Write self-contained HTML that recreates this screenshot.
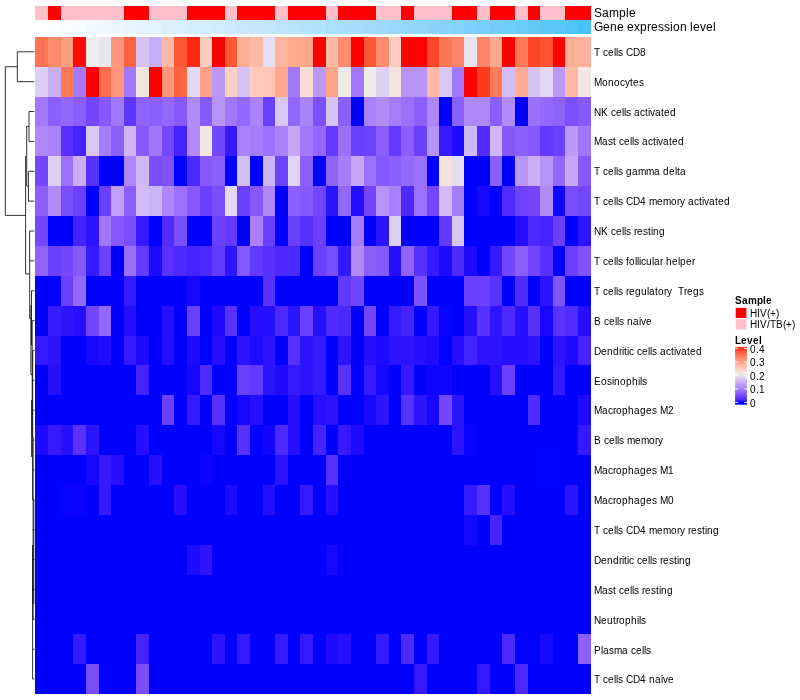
<!DOCTYPE html>
<html><head><meta charset="utf-8"><title>Heatmap</title>
<style>
html,body{margin:0;padding:0;background:#fff}
body{width:800px;height:700px;overflow:hidden}
svg{display:block}
text{font-family:"Liberation Sans",Arial,Helvetica,sans-serif;fill:#000}
.rl{font-size:10px}
.an{font-size:12px}
.lt{font-size:10px;font-weight:bold}
</style></head><body>
<svg width="800" height="700" viewBox="0 0 800 700">
<defs><linearGradient id="lg" gradientUnits="userSpaceOnUse" x1="0" y1="402.4" x2="0" y2="348.4"><stop offset="0%" stop-color="#0000FF"/><stop offset="5%" stop-color="#4B28FE"/><stop offset="10%" stop-color="#6A40FE"/><stop offset="15%" stop-color="#8256FD"/><stop offset="20%" stop-color="#956AFB"/><stop offset="25%" stop-color="#A67EFA"/><stop offset="30%" stop-color="#B693F8"/><stop offset="35%" stop-color="#C4A7F7"/><stop offset="40%" stop-color="#D1BBF5"/><stop offset="45%" stop-color="#DDCFF2"/><stop offset="50%" stop-color="#E9E4EF"/><stop offset="55%" stop-color="#F3E6E2"/><stop offset="60%" stop-color="#FBD5CC"/><stop offset="65%" stop-color="#FFC5B5"/><stop offset="70%" stop-color="#FFB49F"/><stop offset="75%" stop-color="#FFA38A"/><stop offset="80%" stop-color="#FF9174"/><stop offset="85%" stop-color="#FF7F5F"/><stop offset="90%" stop-color="#FF6B4A"/><stop offset="95%" stop-color="#FF5535"/><stop offset="100%" stop-color="#FF3A1F"/></linearGradient></defs>
<rect x="0" y="0" width="800" height="700" fill="#fff"/>
<g shape-rendering="crispEdges">
<rect x="35" y="6" width="13" height="14" fill="#FFC0CB"/><rect x="48" y="6" width="13" height="14" fill="#FF0000"/><rect x="61" y="6" width="12" height="14" fill="#FFC0CB"/><rect x="73" y="6" width="13" height="14" fill="#FFC0CB"/><rect x="86" y="6" width="13" height="14" fill="#FFC0CB"/><rect x="99" y="6" width="12" height="14" fill="#FFC0CB"/><rect x="111" y="6" width="13" height="14" fill="#FFC0CB"/><rect x="124" y="6" width="12" height="14" fill="#FF0000"/><rect x="136" y="6" width="13" height="14" fill="#FF0000"/><rect x="149" y="6" width="13" height="14" fill="#FFC0CB"/><rect x="162" y="6" width="12" height="14" fill="#FFC0CB"/><rect x="174" y="6" width="13" height="14" fill="#FFC0CB"/><rect x="187" y="6" width="13" height="14" fill="#FF0000"/><rect x="200" y="6" width="12" height="14" fill="#FF0000"/><rect x="212" y="6" width="13" height="14" fill="#FF0000"/><rect x="225" y="6" width="12" height="14" fill="#FFC0CB"/><rect x="237" y="6" width="13" height="14" fill="#FF0000"/><rect x="250" y="6" width="13" height="14" fill="#FF0000"/><rect x="263" y="6" width="12" height="14" fill="#FF0000"/><rect x="275" y="6" width="13" height="14" fill="#FFC0CB"/><rect x="288" y="6" width="12" height="14" fill="#FF0000"/><rect x="300" y="6" width="13" height="14" fill="#FF0000"/><rect x="313" y="6" width="13" height="14" fill="#FF0000"/><rect x="326" y="6" width="12" height="14" fill="#FFC0CB"/><rect x="338" y="6" width="13" height="14" fill="#FF0000"/><rect x="351" y="6" width="13" height="14" fill="#FF0000"/><rect x="364" y="6" width="12" height="14" fill="#FF0000"/><rect x="376" y="6" width="13" height="14" fill="#FFC0CB"/><rect x="389" y="6" width="12" height="14" fill="#FFC0CB"/><rect x="401" y="6" width="13" height="14" fill="#FF0000"/><rect x="414" y="6" width="13" height="14" fill="#FFC0CB"/><rect x="427" y="6" width="12" height="14" fill="#FFC0CB"/><rect x="439" y="6" width="13" height="14" fill="#FFC0CB"/><rect x="452" y="6" width="12" height="14" fill="#FF0000"/><rect x="464" y="6" width="13" height="14" fill="#FF0000"/><rect x="477" y="6" width="13" height="14" fill="#FFC0CB"/><rect x="490" y="6" width="12" height="14" fill="#FF0000"/><rect x="502" y="6" width="13" height="14" fill="#FF0000"/><rect x="515" y="6" width="13" height="14" fill="#FFC0CB"/><rect x="528" y="6" width="12" height="14" fill="#FF0000"/><rect x="540" y="6" width="13" height="14" fill="#FFC0CB"/><rect x="553" y="6" width="12" height="14" fill="#FFC0CB"/><rect x="565" y="6" width="13" height="14" fill="#FF0000"/><rect x="578" y="6" width="13" height="14" fill="#FF0000"/>
<rect x="35" y="20" width="13" height="14" fill="#FFFFFF"/><rect x="48" y="20" width="13" height="14" fill="#FCFEFF"/><rect x="61" y="20" width="12" height="14" fill="#F8FCFF"/><rect x="73" y="20" width="13" height="14" fill="#F5FBFF"/><rect x="86" y="20" width="13" height="14" fill="#F2F9FE"/><rect x="99" y="20" width="12" height="14" fill="#EEF8FE"/><rect x="111" y="20" width="13" height="14" fill="#EBF7FE"/><rect x="124" y="20" width="12" height="14" fill="#E7F5FE"/><rect x="136" y="20" width="13" height="14" fill="#E4F4FE"/><rect x="149" y="20" width="13" height="14" fill="#E0F3FE"/><rect x="162" y="20" width="12" height="14" fill="#DDF1FD"/><rect x="174" y="20" width="13" height="14" fill="#D9F0FD"/><rect x="187" y="20" width="13" height="14" fill="#D6EEFD"/><rect x="200" y="20" width="12" height="14" fill="#D2EDFD"/><rect x="212" y="20" width="13" height="14" fill="#CFECFD"/><rect x="225" y="20" width="12" height="14" fill="#CBEAFD"/><rect x="237" y="20" width="13" height="14" fill="#C7E9FC"/><rect x="250" y="20" width="13" height="14" fill="#C4E7FC"/><rect x="263" y="20" width="12" height="14" fill="#C0E6FC"/><rect x="275" y="20" width="13" height="14" fill="#BCE5FC"/><rect x="288" y="20" width="12" height="14" fill="#B9E3FC"/><rect x="300" y="20" width="13" height="14" fill="#B5E2FB"/><rect x="313" y="20" width="13" height="14" fill="#B1E1FB"/><rect x="326" y="20" width="12" height="14" fill="#ADDFFB"/><rect x="338" y="20" width="13" height="14" fill="#A9DEFB"/><rect x="351" y="20" width="13" height="14" fill="#A5DCFB"/><rect x="364" y="20" width="12" height="14" fill="#A1DBFA"/><rect x="376" y="20" width="13" height="14" fill="#9DDAFA"/><rect x="389" y="20" width="12" height="14" fill="#99D8FA"/><rect x="401" y="20" width="13" height="14" fill="#94D7FA"/><rect x="414" y="20" width="13" height="14" fill="#90D6FA"/><rect x="427" y="20" width="12" height="14" fill="#8BD4FA"/><rect x="439" y="20" width="13" height="14" fill="#87D3F9"/><rect x="452" y="20" width="12" height="14" fill="#82D2F9"/><rect x="464" y="20" width="13" height="14" fill="#7DD0F9"/><rect x="477" y="20" width="13" height="14" fill="#78CFF9"/><rect x="490" y="20" width="12" height="14" fill="#73CDF8"/><rect x="502" y="20" width="13" height="14" fill="#6ECCF8"/><rect x="515" y="20" width="13" height="14" fill="#68CBF8"/><rect x="528" y="20" width="12" height="14" fill="#63C9F8"/><rect x="540" y="20" width="13" height="14" fill="#5CC8F8"/><rect x="553" y="20" width="12" height="14" fill="#56C7F7"/><rect x="565" y="20" width="13" height="14" fill="#4FC5F7"/><rect x="578" y="20" width="13" height="14" fill="#47C4F7"/>
<rect x="35" y="37" width="556" height="657" fill="#0000FF"/>
<rect x="35" y="37" width="13" height="30" fill="#FF7352"/><rect x="48" y="37" width="13" height="30" fill="#FF8B6C"/><rect x="61" y="37" width="12" height="30" fill="#FF9D83"/><rect x="73" y="37" width="13" height="30" fill="#FF0D04"/><rect x="86" y="37" width="13" height="30" fill="#EEEEEE"/><rect x="99" y="37" width="12" height="30" fill="#EBE7EF"/><rect x="111" y="37" width="13" height="30" fill="#FF967A"/><rect x="124" y="37" width="12" height="30" fill="#FF6343"/><rect x="136" y="37" width="13" height="30" fill="#D6C3F4"/><rect x="149" y="37" width="13" height="30" fill="#C9AEF6"/><rect x="162" y="37" width="12" height="30" fill="#FFBAA7"/><rect x="174" y="37" width="13" height="30" fill="#FF5837"/><rect x="187" y="37" width="13" height="30" fill="#FF2812"/><rect x="200" y="37" width="12" height="30" fill="#FECCBE"/><rect x="212" y="37" width="13" height="30" fill="#FF0000"/><rect x="225" y="37" width="12" height="30" fill="#FF5837"/><rect x="237" y="37" width="13" height="30" fill="#FFAE97"/><rect x="250" y="37" width="13" height="30" fill="#FFBAA7"/><rect x="263" y="37" width="12" height="30" fill="#E6DFF0"/><rect x="275" y="37" width="13" height="30" fill="#FFB39E"/><rect x="288" y="37" width="12" height="30" fill="#FFA890"/><rect x="300" y="37" width="13" height="30" fill="#FFA68E"/><rect x="313" y="37" width="13" height="30" fill="#FF0000"/><rect x="326" y="37" width="12" height="30" fill="#FFBAA7"/><rect x="338" y="37" width="13" height="30" fill="#FF8C6F"/><rect x="351" y="37" width="13" height="30" fill="#FF0000"/><rect x="364" y="37" width="12" height="30" fill="#FF5837"/><rect x="376" y="37" width="13" height="30" fill="#FF8C6F"/><rect x="389" y="37" width="12" height="30" fill="#FECCBE"/><rect x="401" y="37" width="26" height="30" fill="#FF0000"/><rect x="427" y="37" width="12" height="30" fill="#FF4527"/><rect x="439" y="37" width="13" height="30" fill="#FF7554"/><rect x="452" y="37" width="12" height="30" fill="#FF8364"/><rect x="464" y="37" width="13" height="30" fill="#E8E3F0"/><rect x="477" y="37" width="13" height="30" fill="#FF8364"/><rect x="490" y="37" width="12" height="30" fill="#FFA890"/><rect x="502" y="37" width="13" height="30" fill="#FF0000"/><rect x="515" y="37" width="13" height="30" fill="#FF7959"/><rect x="528" y="37" width="12" height="30" fill="#FF4527"/><rect x="540" y="37" width="13" height="30" fill="#FF5031"/><rect x="553" y="37" width="12" height="30" fill="#FF0000"/><rect x="565" y="37" width="13" height="30" fill="#FFAE97"/><rect x="578" y="37" width="13" height="30" fill="#FFB19C"/>
<rect x="35" y="67" width="13" height="30" fill="#DCCEF2"/><rect x="48" y="67" width="13" height="30" fill="#C9AEF6"/><rect x="61" y="67" width="12" height="30" fill="#FF7959"/><rect x="73" y="67" width="13" height="30" fill="#A279FA"/><rect x="86" y="67" width="13" height="30" fill="#FF0000"/><rect x="99" y="67" width="12" height="30" fill="#FF6E4E"/><rect x="111" y="67" width="13" height="30" fill="#FF967A"/><rect x="124" y="67" width="12" height="30" fill="#A279FA"/><rect x="136" y="67" width="13" height="30" fill="#F3E5E2"/><rect x="149" y="67" width="13" height="30" fill="#FF0000"/><rect x="162" y="67" width="12" height="30" fill="#FF967A"/><rect x="174" y="67" width="13" height="30" fill="#FF6343"/><rect x="187" y="67" width="13" height="30" fill="#E2D8F1"/><rect x="200" y="67" width="12" height="30" fill="#FF9F85"/><rect x="212" y="67" width="13" height="30" fill="#BA99F8"/><rect x="225" y="67" width="12" height="30" fill="#FCD1C5"/><rect x="237" y="67" width="13" height="30" fill="#D6C3F4"/><rect x="250" y="67" width="13" height="30" fill="#FFCABC"/><rect x="263" y="67" width="12" height="30" fill="#FFC6B7"/><rect x="275" y="67" width="13" height="30" fill="#FFA68E"/><rect x="288" y="67" width="12" height="30" fill="#A279FA"/><rect x="300" y="67" width="13" height="30" fill="#F7DDD6"/><rect x="313" y="67" width="13" height="30" fill="#BA99F8"/><rect x="326" y="67" width="12" height="30" fill="#FFA389"/><rect x="338" y="67" width="13" height="30" fill="#F0EBE9"/><rect x="351" y="67" width="13" height="30" fill="#A279FA"/><rect x="364" y="67" width="12" height="30" fill="#F0EBE9"/><rect x="376" y="67" width="13" height="30" fill="#DED0F2"/><rect x="389" y="67" width="12" height="30" fill="#F4E4E0"/><rect x="401" y="67" width="26" height="30" fill="#B794F8"/><rect x="427" y="67" width="12" height="30" fill="#FFBAA7"/><rect x="439" y="67" width="13" height="30" fill="#D9C7F3"/><rect x="452" y="67" width="12" height="30" fill="#A279FA"/><rect x="464" y="67" width="13" height="30" fill="#FF0000"/><rect x="477" y="67" width="13" height="30" fill="#FF3C20"/><rect x="490" y="67" width="12" height="30" fill="#FF7D5D"/><rect x="502" y="67" width="13" height="30" fill="#D3BFF4"/><rect x="515" y="67" width="13" height="30" fill="#FFAC95"/><rect x="528" y="67" width="12" height="30" fill="#D6C3F4"/><rect x="540" y="67" width="13" height="30" fill="#E2D8F1"/><rect x="553" y="67" width="12" height="30" fill="#BA99F8"/><rect x="565" y="67" width="13" height="30" fill="#FFBAA7"/><rect x="578" y="67" width="13" height="30" fill="#F2E7E4"/>
<rect x="35" y="97" width="13" height="29" fill="#A279FA"/><rect x="48" y="97" width="13" height="29" fill="#8B5FFC"/><rect x="61" y="97" width="12" height="29" fill="#9368FC"/><rect x="73" y="97" width="13" height="29" fill="#8B5FFC"/><rect x="86" y="97" width="13" height="29" fill="#7247FD"/><rect x="99" y="97" width="12" height="29" fill="#8559FC"/><rect x="111" y="97" width="13" height="29" fill="#A279FA"/><rect x="124" y="97" width="12" height="29" fill="#5F36FE"/><rect x="136" y="97" width="13" height="29" fill="#8F64FC"/><rect x="149" y="97" width="13" height="29" fill="#8B5FFC"/><rect x="162" y="97" width="12" height="29" fill="#9368FC"/><rect x="174" y="97" width="13" height="29" fill="#8559FC"/><rect x="187" y="97" width="13" height="29" fill="#B18CF9"/><rect x="200" y="97" width="12" height="29" fill="#8559FC"/><rect x="212" y="97" width="13" height="29" fill="#B794F8"/><rect x="225" y="97" width="12" height="29" fill="#A279FA"/><rect x="237" y="97" width="13" height="29" fill="#9368FC"/><rect x="250" y="97" width="13" height="29" fill="#AA83FA"/><rect x="263" y="97" width="12" height="29" fill="#6A40FE"/><rect x="275" y="97" width="13" height="29" fill="#D9C7F3"/><rect x="288" y="97" width="12" height="29" fill="#9368FC"/><rect x="300" y="97" width="13" height="29" fill="#AA83FA"/><rect x="313" y="97" width="13" height="29" fill="#7C50FD"/><rect x="326" y="97" width="12" height="29" fill="#D6C3F4"/><rect x="338" y="97" width="13" height="29" fill="#8B5FFC"/><rect x="364" y="97" width="12" height="29" fill="#A981FA"/><rect x="376" y="97" width="13" height="29" fill="#B18CF9"/><rect x="389" y="97" width="12" height="29" fill="#A57DFA"/><rect x="401" y="97" width="13" height="29" fill="#9B70FB"/><rect x="414" y="97" width="13" height="29" fill="#8B5FFC"/><rect x="427" y="97" width="12" height="29" fill="#AE88F9"/><rect x="452" y="97" width="12" height="29" fill="#8B5FFC"/><rect x="464" y="97" width="26" height="29" fill="#AE88F9"/><rect x="490" y="97" width="12" height="29" fill="#8B5FFC"/><rect x="502" y="97" width="13" height="29" fill="#B18CF9"/><rect x="528" y="97" width="12" height="29" fill="#9B70FB"/><rect x="540" y="97" width="13" height="29" fill="#9368FC"/><rect x="553" y="97" width="12" height="29" fill="#8F64FC"/><rect x="565" y="97" width="13" height="29" fill="#7C50FD"/><rect x="578" y="97" width="13" height="29" fill="#8559FC"/>
<rect x="35" y="126" width="13" height="30" fill="#AE88F9"/><rect x="48" y="126" width="13" height="30" fill="#A981FA"/><rect x="61" y="126" width="12" height="30" fill="#5831FE"/><rect x="73" y="126" width="13" height="30" fill="#4423FE"/><rect x="86" y="126" width="13" height="30" fill="#D9C7F3"/><rect x="99" y="126" width="12" height="30" fill="#A57DFA"/><rect x="111" y="126" width="13" height="30" fill="#8B5FFC"/><rect x="124" y="126" width="12" height="30" fill="#CDB4F5"/><rect x="136" y="126" width="13" height="30" fill="#8559FC"/><rect x="149" y="126" width="13" height="30" fill="#A077FB"/><rect x="162" y="126" width="12" height="30" fill="#7247FD"/><rect x="174" y="126" width="13" height="30" fill="#4423FE"/><rect x="187" y="126" width="13" height="30" fill="#B18CF9"/><rect x="200" y="126" width="12" height="30" fill="#F2E7E4"/><rect x="212" y="126" width="13" height="30" fill="#7247FD"/><rect x="225" y="126" width="12" height="30" fill="#3519FF"/><rect x="237" y="126" width="13" height="30" fill="#A981FA"/><rect x="250" y="126" width="13" height="30" fill="#A57DFA"/><rect x="263" y="126" width="12" height="30" fill="#9B70FB"/><rect x="275" y="126" width="13" height="30" fill="#A981FA"/><rect x="288" y="126" width="12" height="30" fill="#C4A7F7"/><rect x="300" y="126" width="13" height="30" fill="#A279FA"/><rect x="313" y="126" width="13" height="30" fill="#9368FC"/><rect x="326" y="126" width="12" height="30" fill="#6239FE"/><rect x="338" y="126" width="13" height="30" fill="#9B70FB"/><rect x="351" y="126" width="13" height="30" fill="#6A40FE"/><rect x="364" y="126" width="12" height="30" fill="#6D42FD"/><rect x="376" y="126" width="13" height="30" fill="#8B5FFC"/><rect x="389" y="126" width="12" height="30" fill="#6239FE"/><rect x="401" y="126" width="13" height="30" fill="#8B5FFC"/><rect x="414" y="126" width="13" height="30" fill="#6A40FE"/><rect x="427" y="126" width="12" height="30" fill="#B794F8"/><rect x="439" y="126" width="13" height="30" fill="#3519FF"/><rect x="452" y="126" width="12" height="30" fill="#1E0BFF"/><rect x="464" y="126" width="13" height="30" fill="#CFB8F5"/><rect x="477" y="126" width="13" height="30" fill="#512CFE"/><rect x="490" y="126" width="12" height="30" fill="#CFB8F5"/><rect x="502" y="126" width="13" height="30" fill="#8559FC"/><rect x="515" y="126" width="13" height="30" fill="#8B5FFC"/><rect x="528" y="126" width="12" height="30" fill="#8559FC"/><rect x="540" y="126" width="13" height="30" fill="#6239FE"/><rect x="553" y="126" width="12" height="30" fill="#6A40FE"/><rect x="565" y="126" width="13" height="30" fill="#BA99F8"/><rect x="578" y="126" width="13" height="30" fill="#A077FB"/>
<rect x="35" y="156" width="13" height="30" fill="#7247FD"/><rect x="48" y="156" width="13" height="30" fill="#DED0F2"/><rect x="61" y="156" width="12" height="30" fill="#9B70FB"/><rect x="73" y="156" width="13" height="30" fill="#C9AEF6"/><rect x="86" y="156" width="13" height="30" fill="#5831FE"/><rect x="124" y="156" width="12" height="30" fill="#AE88F9"/><rect x="136" y="156" width="13" height="30" fill="#CFB8F5"/><rect x="149" y="156" width="13" height="30" fill="#7A4EFD"/><rect x="162" y="156" width="12" height="30" fill="#7E52FD"/><rect x="187" y="156" width="13" height="30" fill="#4D29FE"/><rect x="200" y="156" width="12" height="30" fill="#8559FC"/><rect x="212" y="156" width="13" height="30" fill="#8B5FFC"/><rect x="237" y="156" width="13" height="30" fill="#D3BFF4"/><rect x="263" y="156" width="12" height="30" fill="#CDB4F5"/><rect x="275" y="156" width="13" height="30" fill="#6D42FD"/><rect x="288" y="156" width="12" height="30" fill="#E0D4F2"/><rect x="300" y="156" width="13" height="30" fill="#8B5FFC"/><rect x="326" y="156" width="12" height="30" fill="#8F64FC"/><rect x="338" y="156" width="13" height="30" fill="#A57DFA"/><rect x="351" y="156" width="13" height="30" fill="#C4A7F7"/><rect x="364" y="156" width="12" height="30" fill="#9B70FB"/><rect x="376" y="156" width="13" height="30" fill="#8559FC"/><rect x="389" y="156" width="12" height="30" fill="#8B5FFC"/><rect x="401" y="156" width="13" height="30" fill="#9368FC"/><rect x="414" y="156" width="13" height="30" fill="#9B70FB"/><rect x="439" y="156" width="13" height="30" fill="#F5E2DD"/><rect x="452" y="156" width="12" height="30" fill="#E5DDF0"/><rect x="490" y="156" width="12" height="30" fill="#8B5FFC"/><rect x="515" y="156" width="13" height="30" fill="#B794F8"/><rect x="528" y="156" width="12" height="30" fill="#C9AEF6"/><rect x="540" y="156" width="13" height="30" fill="#B794F8"/><rect x="553" y="156" width="12" height="30" fill="#9368FC"/><rect x="565" y="156" width="13" height="30" fill="#C4A7F7"/><rect x="578" y="156" width="13" height="30" fill="#8559FC"/>
<rect x="35" y="186" width="13" height="30" fill="#8B5FFC"/><rect x="48" y="186" width="13" height="30" fill="#B18CF9"/><rect x="61" y="186" width="12" height="30" fill="#7A4EFD"/><rect x="73" y="186" width="13" height="30" fill="#6A40FE"/><rect x="99" y="186" width="12" height="30" fill="#6A40FE"/><rect x="111" y="186" width="13" height="30" fill="#BF9FF7"/><rect x="124" y="186" width="12" height="30" fill="#8B5FFC"/><rect x="136" y="186" width="13" height="30" fill="#D1BAF5"/><rect x="149" y="186" width="13" height="30" fill="#CDB4F5"/><rect x="162" y="186" width="12" height="30" fill="#AE88F9"/><rect x="174" y="186" width="13" height="30" fill="#9B70FB"/><rect x="187" y="186" width="13" height="30" fill="#8559FC"/><rect x="200" y="186" width="12" height="30" fill="#6A40FE"/><rect x="212" y="186" width="13" height="30" fill="#7A4EFD"/><rect x="225" y="186" width="12" height="30" fill="#E2D8F1"/><rect x="237" y="186" width="13" height="30" fill="#6A40FE"/><rect x="250" y="186" width="13" height="30" fill="#8559FC"/><rect x="263" y="186" width="12" height="30" fill="#AE88F9"/><rect x="288" y="186" width="12" height="30" fill="#8B5FFC"/><rect x="300" y="186" width="13" height="30" fill="#8559FC"/><rect x="313" y="186" width="13" height="30" fill="#7247FD"/><rect x="326" y="186" width="12" height="30" fill="#2D14FF"/><rect x="338" y="186" width="13" height="30" fill="#9368FC"/><rect x="351" y="186" width="13" height="30" fill="#260FFF"/><rect x="364" y="186" width="12" height="30" fill="#7247FD"/><rect x="376" y="186" width="13" height="30" fill="#B794F8"/><rect x="389" y="186" width="12" height="30" fill="#A981FA"/><rect x="401" y="186" width="13" height="30" fill="#4D29FE"/><rect x="414" y="186" width="13" height="30" fill="#9B70FB"/><rect x="427" y="186" width="12" height="30" fill="#7247FD"/><rect x="439" y="186" width="13" height="30" fill="#D1BAF5"/><rect x="452" y="186" width="12" height="30" fill="#A57DFA"/><rect x="477" y="186" width="13" height="30" fill="#1607FF"/><rect x="502" y="186" width="13" height="30" fill="#512CFE"/><rect x="515" y="186" width="13" height="30" fill="#6D42FD"/><rect x="528" y="186" width="12" height="30" fill="#7247FD"/><rect x="540" y="186" width="13" height="30" fill="#B18CF9"/><rect x="553" y="186" width="12" height="30" fill="#0E04FF"/><rect x="565" y="186" width="13" height="30" fill="#7A4EFD"/><rect x="578" y="186" width="13" height="30" fill="#7247FD"/>
<rect x="35" y="216" width="13" height="30" fill="#7247FD"/><rect x="73" y="216" width="13" height="30" fill="#4423FE"/><rect x="86" y="216" width="13" height="30" fill="#2D14FF"/><rect x="99" y="216" width="12" height="30" fill="#A077FB"/><rect x="111" y="216" width="13" height="30" fill="#8559FC"/><rect x="124" y="216" width="12" height="30" fill="#7A4EFD"/><rect x="136" y="216" width="13" height="30" fill="#3519FF"/><rect x="162" y="216" width="12" height="30" fill="#512CFE"/><rect x="174" y="216" width="13" height="30" fill="#7A4EFD"/><rect x="212" y="216" width="13" height="30" fill="#6A40FE"/><rect x="225" y="216" width="12" height="30" fill="#6239FE"/><rect x="250" y="216" width="13" height="30" fill="#A981FA"/><rect x="263" y="216" width="12" height="30" fill="#6A40FE"/><rect x="288" y="216" width="12" height="30" fill="#6A40FE"/><rect x="300" y="216" width="13" height="30" fill="#5831FE"/><rect x="313" y="216" width="13" height="30" fill="#6A40FE"/><rect x="351" y="216" width="13" height="30" fill="#A57DFA"/><rect x="376" y="216" width="13" height="30" fill="#2D14FF"/><rect x="389" y="216" width="12" height="30" fill="#DED0F2"/><rect x="439" y="216" width="13" height="30" fill="#6239FE"/><rect x="452" y="216" width="12" height="30" fill="#D7C5F3"/><rect x="515" y="216" width="13" height="30" fill="#260FFF"/><rect x="528" y="216" width="12" height="30" fill="#4D29FE"/><rect x="540" y="216" width="13" height="30" fill="#4423FE"/><rect x="553" y="216" width="12" height="30" fill="#6A40FE"/><rect x="578" y="216" width="13" height="30" fill="#2D14FF"/>
<rect x="35" y="246" width="13" height="30" fill="#8F64FC"/><rect x="48" y="246" width="13" height="30" fill="#6A40FE"/><rect x="61" y="246" width="12" height="30" fill="#7247FD"/><rect x="73" y="246" width="13" height="30" fill="#8559FC"/><rect x="86" y="246" width="13" height="30" fill="#3519FF"/><rect x="99" y="246" width="12" height="30" fill="#6A40FE"/><rect x="124" y="246" width="12" height="30" fill="#9B70FB"/><rect x="136" y="246" width="13" height="30" fill="#6239FE"/><rect x="149" y="246" width="13" height="30" fill="#1E0BFF"/><rect x="162" y="246" width="12" height="30" fill="#5831FE"/><rect x="174" y="246" width="13" height="30" fill="#4D29FE"/><rect x="187" y="246" width="13" height="30" fill="#4423FE"/><rect x="200" y="246" width="12" height="30" fill="#4D29FE"/><rect x="212" y="246" width="13" height="30" fill="#6239FE"/><rect x="225" y="246" width="12" height="30" fill="#2D14FF"/><rect x="237" y="246" width="13" height="30" fill="#8559FC"/><rect x="250" y="246" width="13" height="30" fill="#6239FE"/><rect x="263" y="246" width="12" height="30" fill="#5831FE"/><rect x="275" y="246" width="25" height="30" fill="#4D29FE"/><rect x="313" y="246" width="13" height="30" fill="#6A40FE"/><rect x="326" y="246" width="12" height="30" fill="#7A4EFD"/><rect x="338" y="246" width="13" height="30" fill="#3519FF"/><rect x="351" y="246" width="13" height="30" fill="#B18CF9"/><rect x="364" y="246" width="12" height="30" fill="#8B5FFC"/><rect x="376" y="246" width="13" height="30" fill="#8559FC"/><rect x="389" y="246" width="12" height="30" fill="#260FFF"/><rect x="401" y="246" width="13" height="30" fill="#8F64FC"/><rect x="414" y="246" width="13" height="30" fill="#5831FE"/><rect x="427" y="246" width="12" height="30" fill="#3519FF"/><rect x="439" y="246" width="13" height="30" fill="#1E0BFF"/><rect x="452" y="246" width="12" height="30" fill="#4D29FE"/><rect x="464" y="246" width="13" height="30" fill="#1E0BFF"/><rect x="490" y="246" width="12" height="30" fill="#3519FF"/><rect x="502" y="246" width="13" height="30" fill="#7247FD"/><rect x="515" y="246" width="13" height="30" fill="#8B5FFC"/><rect x="528" y="246" width="12" height="30" fill="#7247FD"/><rect x="540" y="246" width="13" height="30" fill="#5831FE"/><rect x="565" y="246" width="13" height="30" fill="#6A40FE"/><rect x="578" y="246" width="13" height="30" fill="#7E52FD"/>
<rect x="61" y="276" width="12" height="30" fill="#6A40FE"/><rect x="73" y="276" width="13" height="30" fill="#9368FC"/><rect x="124" y="276" width="12" height="30" fill="#3519FF"/><rect x="187" y="276" width="13" height="30" fill="#1607FF"/><rect x="263" y="276" width="12" height="30" fill="#5831FE"/><rect x="338" y="276" width="13" height="30" fill="#6239FE"/><rect x="351" y="276" width="13" height="30" fill="#7247FD"/><rect x="414" y="276" width="13" height="30" fill="#7E52FD"/><rect x="464" y="276" width="26" height="30" fill="#6A40FE"/><rect x="490" y="276" width="12" height="30" fill="#5831FE"/><rect x="515" y="276" width="13" height="30" fill="#512CFE"/><rect x="540" y="276" width="13" height="30" fill="#2D14FF"/><rect x="553" y="276" width="12" height="30" fill="#7E52FD"/>
<rect x="48" y="306" width="13" height="30" fill="#3519FF"/><rect x="61" y="306" width="12" height="30" fill="#2D14FF"/><rect x="73" y="306" width="13" height="30" fill="#260FFF"/><rect x="86" y="306" width="13" height="30" fill="#7247FD"/><rect x="99" y="306" width="12" height="30" fill="#9368FC"/><rect x="124" y="306" width="12" height="30" fill="#260FFF"/><rect x="162" y="306" width="12" height="30" fill="#260FFF"/><rect x="187" y="306" width="13" height="30" fill="#6A40FE"/><rect x="212" y="306" width="13" height="30" fill="#1E0BFF"/><rect x="225" y="306" width="12" height="30" fill="#5831FE"/><rect x="250" y="306" width="25" height="30" fill="#260FFF"/><rect x="275" y="306" width="13" height="30" fill="#4D29FE"/><rect x="288" y="306" width="12" height="30" fill="#2D14FF"/><rect x="300" y="306" width="13" height="30" fill="#6A40FE"/><rect x="313" y="306" width="13" height="30" fill="#260FFF"/><rect x="326" y="306" width="12" height="30" fill="#512CFE"/><rect x="338" y="306" width="13" height="30" fill="#4D29FE"/><rect x="364" y="306" width="12" height="30" fill="#7247FD"/><rect x="389" y="306" width="12" height="30" fill="#3519FF"/><rect x="401" y="306" width="13" height="30" fill="#4423FE"/><rect x="427" y="306" width="12" height="30" fill="#3519FF"/><rect x="439" y="306" width="13" height="30" fill="#0702FF"/><rect x="464" y="306" width="13" height="30" fill="#260FFF"/><rect x="477" y="306" width="13" height="30" fill="#5831FE"/><rect x="490" y="306" width="12" height="30" fill="#2D14FF"/><rect x="502" y="306" width="13" height="30" fill="#4D29FE"/><rect x="515" y="306" width="13" height="30" fill="#260FFF"/><rect x="528" y="306" width="12" height="30" fill="#5831FE"/><rect x="540" y="306" width="13" height="30" fill="#1607FF"/><rect x="553" y="306" width="12" height="30" fill="#5831FE"/><rect x="565" y="306" width="13" height="30" fill="#512CFE"/><rect x="578" y="306" width="13" height="30" fill="#260FFF"/>
<rect x="35" y="336" width="13" height="29" fill="#3519FF"/><rect x="48" y="336" width="13" height="29" fill="#2D14FF"/><rect x="86" y="336" width="13" height="29" fill="#1607FF"/><rect x="99" y="336" width="12" height="29" fill="#1E0BFF"/><rect x="124" y="336" width="12" height="29" fill="#3519FF"/><rect x="136" y="336" width="13" height="29" fill="#1E0BFF"/><rect x="162" y="336" width="12" height="29" fill="#260FFF"/><rect x="187" y="336" width="13" height="29" fill="#1E0BFF"/><rect x="212" y="336" width="13" height="29" fill="#260FFF"/><rect x="237" y="336" width="13" height="29" fill="#2D14FF"/><rect x="250" y="336" width="13" height="29" fill="#1E0BFF"/><rect x="263" y="336" width="12" height="29" fill="#2D14FF"/><rect x="288" y="336" width="12" height="29" fill="#5831FE"/><rect x="300" y="336" width="13" height="29" fill="#2D14FF"/><rect x="313" y="336" width="13" height="29" fill="#3519FF"/><rect x="338" y="336" width="13" height="29" fill="#2D14FF"/><rect x="364" y="336" width="12" height="29" fill="#260FFF"/><rect x="376" y="336" width="13" height="29" fill="#1E0BFF"/><rect x="389" y="336" width="25" height="29" fill="#2D14FF"/><rect x="414" y="336" width="13" height="29" fill="#260FFF"/><rect x="427" y="336" width="12" height="29" fill="#1E0BFF"/><rect x="452" y="336" width="12" height="29" fill="#260FFF"/><rect x="464" y="336" width="13" height="29" fill="#4423FE"/><rect x="477" y="336" width="25" height="29" fill="#2D14FF"/><rect x="502" y="336" width="26" height="29" fill="#260FFF"/><rect x="528" y="336" width="12" height="29" fill="#2D14FF"/><rect x="553" y="336" width="12" height="29" fill="#2D14FF"/><rect x="565" y="336" width="13" height="29" fill="#1E0BFF"/><rect x="578" y="336" width="13" height="29" fill="#4423FE"/>
<rect x="48" y="365" width="13" height="30" fill="#260FFF"/><rect x="136" y="365" width="13" height="30" fill="#4423FE"/><rect x="187" y="365" width="13" height="30" fill="#1607FF"/><rect x="200" y="365" width="12" height="30" fill="#512CFE"/><rect x="237" y="365" width="13" height="30" fill="#6A40FE"/><rect x="250" y="365" width="13" height="30" fill="#6239FE"/><rect x="263" y="365" width="12" height="30" fill="#2D14FF"/><rect x="275" y="365" width="13" height="30" fill="#1E0BFF"/><rect x="288" y="365" width="12" height="30" fill="#3519FF"/><rect x="300" y="365" width="13" height="30" fill="#2D14FF"/><rect x="313" y="365" width="13" height="30" fill="#3519FF"/><rect x="338" y="365" width="13" height="30" fill="#5831FE"/><rect x="364" y="365" width="12" height="30" fill="#3519FF"/><rect x="376" y="365" width="13" height="30" fill="#1607FF"/><rect x="401" y="365" width="13" height="30" fill="#3519FF"/><rect x="427" y="365" width="25" height="30" fill="#0E04FF"/><rect x="490" y="365" width="12" height="30" fill="#260FFF"/><rect x="502" y="365" width="13" height="30" fill="#6A40FE"/><rect x="553" y="365" width="12" height="30" fill="#3519FF"/>
<rect x="162" y="395" width="12" height="30" fill="#6A40FE"/><rect x="187" y="395" width="13" height="30" fill="#3519FF"/><rect x="212" y="395" width="13" height="30" fill="#5831FE"/><rect x="237" y="395" width="13" height="30" fill="#1607FF"/><rect x="250" y="395" width="13" height="30" fill="#260FFF"/><rect x="288" y="395" width="12" height="30" fill="#260FFF"/><rect x="313" y="395" width="13" height="30" fill="#260FFF"/><rect x="326" y="395" width="12" height="30" fill="#2D14FF"/><rect x="364" y="395" width="12" height="30" fill="#1607FF"/><rect x="376" y="395" width="13" height="30" fill="#2D14FF"/><rect x="401" y="395" width="13" height="30" fill="#5831FE"/><rect x="414" y="395" width="13" height="30" fill="#2D14FF"/><rect x="427" y="395" width="12" height="30" fill="#1607FF"/><rect x="439" y="395" width="13" height="30" fill="#7247FD"/><rect x="452" y="395" width="12" height="30" fill="#2D14FF"/><rect x="528" y="395" width="12" height="30" fill="#512CFE"/><rect x="578" y="395" width="13" height="30" fill="#1E0BFF"/>
<rect x="35" y="425" width="13" height="30" fill="#1E0BFF"/><rect x="48" y="425" width="13" height="30" fill="#3519FF"/><rect x="61" y="425" width="12" height="30" fill="#260FFF"/><rect x="73" y="425" width="13" height="30" fill="#5831FE"/><rect x="86" y="425" width="13" height="30" fill="#2D14FF"/><rect x="136" y="425" width="13" height="30" fill="#260FFF"/><rect x="212" y="425" width="13" height="30" fill="#1607FF"/><rect x="237" y="425" width="13" height="30" fill="#5831FE"/><rect x="263" y="425" width="12" height="30" fill="#0E04FF"/><rect x="275" y="425" width="13" height="30" fill="#4D29FE"/><rect x="288" y="425" width="12" height="30" fill="#260FFF"/><rect x="313" y="425" width="13" height="30" fill="#4423FE"/><rect x="338" y="425" width="13" height="30" fill="#3519FF"/><rect x="351" y="425" width="13" height="30" fill="#1E0BFF"/><rect x="452" y="425" width="12" height="30" fill="#2D14FF"/><rect x="464" y="425" width="13" height="30" fill="#0702FF"/><rect x="578" y="425" width="13" height="30" fill="#3519FF"/>
<rect x="86" y="455" width="13" height="30" fill="#1607FF"/><rect x="99" y="455" width="12" height="30" fill="#3519FF"/><rect x="111" y="455" width="13" height="30" fill="#260FFF"/><rect x="149" y="455" width="13" height="30" fill="#260FFF"/><rect x="200" y="455" width="12" height="30" fill="#0C03FF"/><rect x="275" y="455" width="13" height="30" fill="#2D14FF"/><rect x="326" y="455" width="12" height="30" fill="#5831FE"/><rect x="540" y="455" width="13" height="30" fill="#0201FF"/>
<rect x="61" y="485" width="25" height="30" fill="#0702FF"/><rect x="99" y="485" width="12" height="30" fill="#3519FF"/><rect x="174" y="485" width="13" height="30" fill="#260FFF"/><rect x="225" y="485" width="12" height="30" fill="#1E0BFF"/><rect x="263" y="485" width="12" height="30" fill="#260FFF"/><rect x="300" y="485" width="13" height="30" fill="#3519FF"/><rect x="326" y="485" width="12" height="30" fill="#260FFF"/><rect x="464" y="485" width="13" height="30" fill="#3519FF"/><rect x="477" y="485" width="13" height="30" fill="#5831FE"/><rect x="502" y="485" width="13" height="30" fill="#260FFF"/><rect x="565" y="485" width="13" height="30" fill="#2D14FF"/>
<rect x="464" y="515" width="13" height="30" fill="#1607FF"/><rect x="490" y="515" width="12" height="30" fill="#4423FE"/>
<rect x="187" y="545" width="13" height="30" fill="#1E0BFF"/><rect x="200" y="545" width="12" height="30" fill="#2D14FF"/><rect x="326" y="545" width="12" height="30" fill="#1607FF"/>


<rect x="73" y="634" width="13" height="30" fill="#3519FF"/><rect x="136" y="634" width="13" height="30" fill="#4423FE"/><rect x="212" y="634" width="13" height="30" fill="#2D14FF"/><rect x="237" y="634" width="13" height="30" fill="#3519FF"/><rect x="275" y="634" width="13" height="30" fill="#3519FF"/><rect x="300" y="634" width="13" height="30" fill="#3519FF"/><rect x="326" y="634" width="12" height="30" fill="#1E0BFF"/><rect x="338" y="634" width="13" height="30" fill="#260FFF"/><rect x="376" y="634" width="13" height="30" fill="#3519FF"/><rect x="401" y="634" width="13" height="30" fill="#4D29FE"/><rect x="427" y="634" width="12" height="30" fill="#3519FF"/><rect x="502" y="634" width="13" height="30" fill="#4D29FE"/><rect x="540" y="634" width="13" height="30" fill="#1607FF"/><rect x="578" y="634" width="13" height="30" fill="#8B5FFC"/>
<rect x="86" y="664" width="13" height="30" fill="#7A4EFD"/><rect x="136" y="664" width="13" height="30" fill="#7A4EFD"/><rect x="414" y="664" width="13" height="30" fill="#3519FF"/><rect x="477" y="664" width="13" height="30" fill="#3519FF"/><rect x="515" y="664" width="13" height="30" fill="#4D29FE"/>
</g>
<text class="an" x="594 602 609 619 626 629" y="17" xml:space="preserve">Sample</text>
<text class="an" x="594 603 610 617 624 627 634 640 647 651 658 664 670 673 680 687 690 693 700 706 713" y="31" xml:space="preserve">Gene expression level</text>
<text class="rl" x="594 600 603 608 614 616 618 623 626 633 640" y="56" xml:space="preserve">T cells CD8</text>
<text class="rl" x="594 602 608 614 620 625 630 633 639" y="86" xml:space="preserve">Monocytes</text>
<text class="rl" x="594 601 608 611 616 622 624 626 631 634 640 645 648 650 655 661 664 670" y="116" xml:space="preserve">NK cells activated</text>
<text class="rl" x="594 602 608 613 616 619 624 630 632 634 639 642 648 653 656 658 663 669 672 678" y="145" xml:space="preserve">Mast cells activated</text>
<text class="rl" x="594 600 603 608 614 616 618 623 626 632 638 646 654 660 663 669 675 677 680" y="175" xml:space="preserve">T cells gamma delta</text>
<text class="rl" x="594 600 603 608 614 616 618 623 626 633 640 646 649 657 663 671 677 680 685 688 694 699 702 704 709 715 718 724" y="205" xml:space="preserve">T cells CD4 memory activated</text>
<text class="rl" x="594 601 608 611 616 622 624 626 631 634 637 643 648 651 653 659" y="235" xml:space="preserve">NK cells resting</text>
<text class="rl" x="594 600 603 608 614 616 618 623 626 629 635 637 639 641 646 652 654 660 663 666 672 678 680 686 692" y="265" xml:space="preserve">T cells follicular helper</text>
<text class="rl" x="594 600 603 608 614 616 618 623 626 629 635 641 647 649 655 658 664 667 672 675 678 684 687 693 699" y="295" xml:space="preserve">T cells regulatory  Tregs</text>
<text class="rl" x="594 601 604 609 615 617 619 624 627 633 639 641 646" y="325" xml:space="preserve">B cells naive</text>
<text class="rl" x="594 601 607 613 619 622 624 627 629 634 637 642 648 650 652 657 660 666 671 674 676 681 687 690 696" y="355" xml:space="preserve">Dendritic cells activated</text>
<text class="rl" x="594 601 607 612 614 620 626 632 638 640 642" y="385" xml:space="preserve">Eosinophils</text>
<text class="rl" x="594 602 608 613 616 622 628 634 640 646 652 657 660 668" y="414" xml:space="preserve">Macrophages M2</text>
<text class="rl" x="594 601 604 609 615 617 619 624 627 635 641 649 655 658" y="444" xml:space="preserve">B cells memory</text>
<text class="rl" x="594 602 608 613 616 622 628 634 640 646 652 657 660 668" y="474" xml:space="preserve">Macrophages M1</text>
<text class="rl" x="594 602 608 613 616 622 628 634 640 646 652 657 660 668" y="504" xml:space="preserve">Macrophages M0</text>
<text class="rl" x="594 600 603 608 614 616 618 623 626 633 640 646 649 657 663 671 677 680 685 688 691 697 702 705 707 713" y="534" xml:space="preserve">T cells CD4 memory resting</text>
<text class="rl" x="594 601 607 613 619 622 624 627 629 634 637 642 648 650 652 657 660 663 669 674 677 679 685" y="564" xml:space="preserve">Dendritic cells resting</text>
<text class="rl" x="594 602 608 613 616 619 624 630 632 634 639 642 645 651 656 659 661 667" y="594" xml:space="preserve">Mast cells resting</text>
<text class="rl" x="594 601 607 613 616 619 625 631 637 639 641" y="624" xml:space="preserve">Neutrophils</text>
<text class="rl" x="594 601 603 609 614 622 628 631 636 642 644 646" y="654" xml:space="preserve">Plasma cells</text>
<text class="rl" x="594 600 603 608 614 616 618 623 626 633 640 646 649 655 661 663 668" y="683" xml:space="preserve">T cells CD4 naive</text>
<text class="lt" x="735 742 748 757 763 766" y="304" xml:space="preserve">Sample</text>
<rect x="735.7" y="307.8" width="10.7" height="10.2" fill="#FF0000"/>
<rect x="735.7" y="319.1" width="10.7" height="10.3" fill="#FFC0CB"/>
<text class="rl" x="750 757 760 767 770 776" y="317" xml:space="preserve">HIV(+)</text>
<text class="rl" x="750 757 760 767 770 776 783 786 792" y="328" xml:space="preserve">HIV/TB(+)</text>
<text class="lt" x="735 741 747 753 759" y="344" xml:space="preserve">Level</text>
<rect x="735.1" y="346.9" width="11.8" height="57.8" fill="url(#lg)"/>
<text class="rl" x="750 756 759" y="353" xml:space="preserve">0.4</text>
<text class="rl" x="750 756 759" y="366" xml:space="preserve">0.3</text>
<text class="rl" x="750 756 759" y="380" xml:space="preserve">0.2</text>
<text class="rl" x="750 756 759" y="393" xml:space="preserve">0.1</text>
<text class="rl" x="750" y="407" xml:space="preserve">0</text>
<path d="M735.1 348.4h2.8M744.1 348.4h2.8M735.1 361.9h2.8M744.1 361.9h2.8M735.1 375.4h2.8M744.1 375.4h2.8M735.1 388.9h2.8M744.1 388.9h2.8M735.1 402.4h2.8M744.1 402.4h2.8" stroke="#fff" stroke-width="0.9" fill="none"/>
<path d="M17.3 51.79L34.4 51.79M17.3 81.66L34.4 81.66M17.3 51.79L17.3 81.66M5.3 66.72L17.3 66.72M5.3 66.72L5.3 215.4M5.3 215.4L25.6 215.4M29 111.53L34.4 111.53M29 141.4L34.4 141.4M29 111.53L29 141.4M26.7 126.3L29 126.3M26.7 126.3L26.7 186M28.6 171.27L34.4 171.27M28.2 201.14L34.4 201.14M28.4 171.27L28.4 201.14M26.7 186L28.4 186M25.6 156.4L26.7 156.4M25.6 156.4L25.6 274M29.6 231.01L34.4 231.01M29.6 260.88L34.4 260.88M29.6 231.01L29.6 260.88M25.6 274L29.7 274M29.7 260.88L29.7 318.6M29.7 318.6L30.9 318.6M30.9 305L30.9 374.6M30.9 374.6L32.2 374.6M31.5 290.75L34.4 290.75M31.5 290.75L31.5 345M32.2 320.62L34.4 320.62M32.2 320.62L32.2 437M31.6 400L31.6 457M32.7 350.49L32.7 500M33.1 437L33.1 620M33.8 500L33.8 604M32.5 545L32.5 604M32.6 604L32.6 679.06M32.8 350.49L34.4 350.49M32.8 380.36L34.4 380.36M32.8 410.23L34.4 410.23M32.8 440.1L34.4 440.1M32.8 469.97L34.4 469.97M32.8 499.84L34.4 499.84M32.8 529.71L34.4 529.71M32.8 559.58L34.4 559.58M32.8 589.45L34.4 589.45M32.8 619.32L34.4 619.32M32.6 649.19L34.4 649.19M32.6 679.06L34.4 679.06" fill="none" stroke="#000" stroke-width="0.8"/>
</svg>
</body></html>
